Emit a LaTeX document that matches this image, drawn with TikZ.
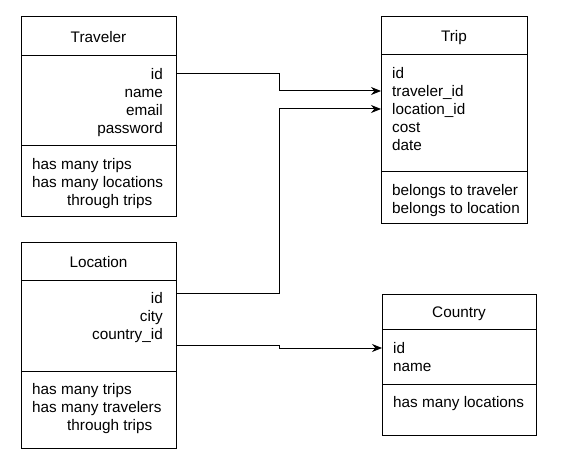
\documentclass[tikz,border=0pt]{standalone}
\usepackage{fontspec}
\setmainfont{Liberation Sans}
\usetikzlibrary{arrows.meta,positioning}

\begin{document}
\begin{tikzpicture}[
    x=1pt,y=-1pt,
    font=\fontsize{15.3pt}{18pt}\selectfont,
    sect/.style = {rectangle,draw=black,line width=1pt,outer sep=0pt,
                   anchor=north west,inner sep=0pt},
    head/.style = {sect,text height=13pt,text depth=1pt},
    row/.style  = {inner xsep=11pt,inner ysep=1.5pt,text height=12pt,
                   text depth=1pt,anchor=west},
    rowr/.style = {row,inner xsep=13pt,anchor=east},
    fk/.style   = {-{Stealth[length=10pt,width=8pt]},line width=1pt},
  ]
  \useasboundingbox (0,0) rectangle (562,473);

  % Traveler
  \node[head,minimum width=155pt,minimum height=39pt] (trav-head) at (21,17) {Traveler};
  \node[sect,minimum width=155pt,minimum height=90pt,below=0pt of trav-head] (trav-attr) {};
  \node[sect,minimum width=155pt,minimum height=71pt,below=0pt of trav-attr] (trav-meth) {};
  \foreach \f [count=\i] in {id,name,email,password}
    \node[rowr] (trav-\i) at (176,56+18*\i) {\f};
  \foreach \m [count=\i] in {has many trips,has many locations,\hspace*{35pt}through trips}
    \node[row] (trav-m\i) at (21,146+18*\i) {\m};

  % Location
  \node[head,minimum width=155pt,minimum height=38pt] (loc-head) at (21,242) {Location};
  \node[sect,minimum width=155pt,minimum height=91pt,below=0pt of loc-head] (loc-attr) {};
  \node[sect,minimum width=155pt,minimum height=77pt,below=0pt of loc-attr] (loc-meth) {};
  \foreach \f [count=\i] in {id,city,country\_id}
    \node[rowr] (loc-\i) at (176,280+18*\i) {\f};
  \foreach \m [count=\i] in {has many trips,has many travelers,\hspace*{35pt}through trips}
    \node[row] (loc-m\i) at (21,371+18*\i) {\m};

  % Trip
  \node[head,minimum width=146pt,minimum height=38pt] (trip-head) at (381,17) {Trip};
  \node[sect,minimum width=146pt,minimum height=117pt,below=0pt of trip-head] (trip-attr) {};
  \node[sect,minimum width=146pt,minimum height=51pt,below=0pt of trip-attr] (trip-meth) {};
  \foreach \f [count=\i] in {id,traveler\_id,location\_id,cost,date}
    \node[row] (trip-\i) at (381,55+18*\i) {\f};
  \foreach \m [count=\i] in {belongs to traveler,belongs to location}
    \node[row] (trip-m\i) at (381,172+18*\i) {\m};

  % Country
  \node[head,minimum width=154pt,minimum height=35pt] (ctry-head) at (382,294) {Country};
  \node[sect,minimum width=154pt,minimum height=55pt,below=0pt of ctry-head] (ctry-attr) {};
  \node[sect,minimum width=154pt,minimum height=51pt,below=0pt of ctry-attr] (ctry-meth) {};
  \foreach \f [count=\i] in {id,name}
    \node[row] (ctry-\i) at (382,330+18*\i) {\f};
  \node[row] (ctry-m1) at (382,402) {has many locations};

  % foreign keys
  \draw[fk] (trav-1.east) -- ++(103,0) |- (trip-2.west);
  \draw[fk] ([yshift=5pt]loc-1.east) -- ++(103,0) |- (trip-3.west);
  \draw[fk] ([yshift=-11pt]loc-3.east) -- ++(103,0) |- (ctry-1.west);

\end{tikzpicture}
\end{document}
